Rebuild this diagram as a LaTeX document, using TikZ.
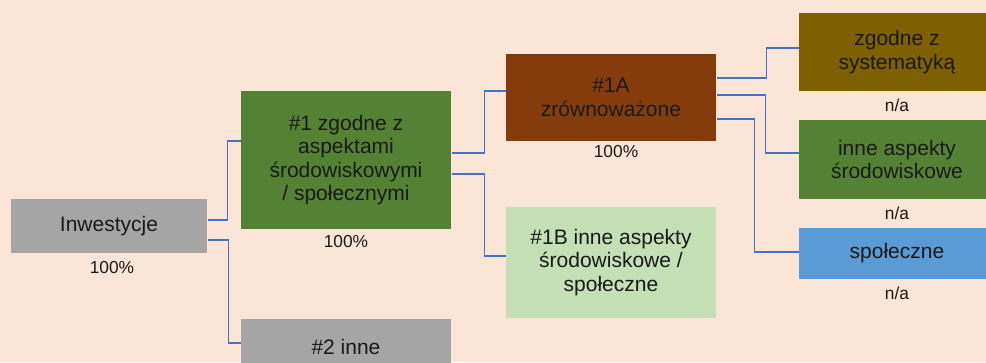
\documentclass[tikz,border=0pt]{standalone}
\usepackage{fontspec}
\setmainfont{Liberation Sans}
\usetikzlibrary{calc}

\definecolor{bgpeach}{RGB}{251,229,214}
\definecolor{boxgray}{RGB}{165,165,165}
\definecolor{boxgreen}{RGB}{84,130,53}
\definecolor{boxbrown}{RGB}{132,60,12}
\definecolor{boxlight}{RGB}{197,224,180}
\definecolor{boxolive}{RGB}{127,96,0}
\definecolor{boxblue}{RGB}{91,155,213}
\definecolor{linkblue}{RGB}{68,114,196}

\tikzset{every picture/.style={line width=0.75pt}}
\tikzset{
  box/.style={inner sep=0pt, align=center, text=black!90,
    font=\fontsize{15.75}{17.6}\selectfont},
  pct/.style={inner sep=0pt, text=black!90, font=\fontsize{13}{15}\selectfont},
  link/.style={draw=linkblue, line width=0.9pt}
}

\begin{document}
\begin{tikzpicture}[x=0.75pt,y=0.75pt,yscale=-1,xscale=1]
	%set diagram to 986 x 362
	\clip (0,0) rectangle (986,362);
	\fill [bgpeach] (0,0) rectangle (986,362);

	%Shape: Rectangle [Inwestycje]
	\node [box, fill=boxgray, minimum width=147pt, minimum height=40.5pt] (inw) at (109,226) {Inwestycje};
	%Shape: Rectangle [#1]
	\node [box, fill=boxgreen, minimum width=157.5pt, minimum height=103.5pt] (one) at (346,160) {\#1 zgodne z\\aspektami\\środowiskowymi\\/ społecznymi};
	%Shape: Rectangle [#2]
	\node [box, fill=boxgray, minimum width=157.5pt, minimum height=42pt] (two) at (346,347) {\#2 inne};
	%Shape: Rectangle [#1A]
	\node [box, fill=boxbrown, minimum width=157.5pt, minimum height=65.25pt] (onea) at (611,97.5) {\#1A\\zrównoważone};
	%Shape: Rectangle [#1B]
	\node [box, fill=boxlight, minimum width=157.5pt, minimum height=83.25pt] (oneb) at (611,262.5) {\#1B inne aspekty\\środowiskowe /\\społeczne};
	%Shape: Rectangle [systematyka]
	\node [box, fill=boxolive, minimum width=147pt, minimum height=58.5pt] (taxo) at (897,52) {zgodne z\\systematyką};
	%Shape: Rectangle [srodowiskowe]
	\node [box, fill=boxgreen, minimum width=147pt, minimum height=59.25pt] (envi) at (897,159.5) {inne aspekty\\środowiskowe};
	%Shape: Rectangle [spoleczne]
	\node [box, fill=boxblue, minimum width=147pt, minimum height=38.25pt] (soci) at (897,253.5) {społeczne};

	% Text Node
	\node [pct] (inwp) at (112,268) {100\%};
	% Text Node
	\node [pct] (onep) at (346,242) {100\%};
	% Text Node
	\node [pct] (oneap) at (616,152) {100\%};
	% Text Node
	\node [pct] (taxop) at (897,105) {n/a};
	% Text Node
	\node [pct] (envip) at (897,213) {n/a};
	% Text Node
	\node [pct] (socip) at (897,293) {n/a};

	%Connectors
	\draw [link] ($(inw.east)+(0,-6)$) -- ++(20,0) |- ($(one.west)+(0,-19)$);
	\draw [link] ($(inw.east)+(0,14)$) -- ++(21,0) |- ($(two.west)+(0,-4)$);
	\draw [link] ($(one.east)+(0,-7)$) -- ++(33,0) |- ($(onea.west)+(0,-6.5)$);
	\draw [link] ($(one.east)+(0,14)$) -- ++(33,0) |- ($(oneb.west)+(0,-6.5)$);
	\draw [link] ($(onea.east)+(0,-19.5)$) -- ++(50,0) |- ($(taxo.west)+(0,-4)$);
	\draw [link] ($(onea.east)+(0,-2.5)$) -- ++(49,0) |- ($(envi.west)+(0,-6.5)$);
	\draw [link] ($(onea.east)+(0,21.5)$) -- ++(38,0) |- ($(soci.west)+(0,-1.5)$);

\end{tikzpicture}
\end{document}
